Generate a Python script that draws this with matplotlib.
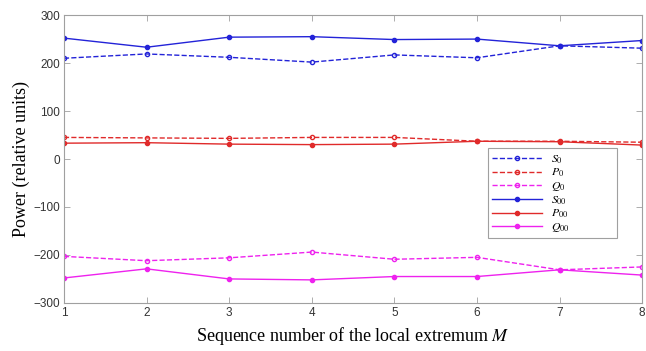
import matplotlib
matplotlib.use('Agg')
import matplotlib.pyplot as plt

# sequence number of the local extremum
m_values = [1, 2, 3, 4, 5, 6, 7, 8]

s0 = [210, 219, 212, 202, 217, 211, 236, 231]
p0 = [45, 44, 43, 45, 45, 37, 37, 35]
q0 = [-203, -212, -206, -194, -209, -205, -231, -225]
s00 = [252, 233, 254, 255, 249, 250, 236, 247]
p00 = [33, 34, 31, 30, 31, 37, 36, 29]
q00 = [-248, -229, -250, -252, -245, -245, -231, -242]

y_ticks = [-300, -200, -100, 0, 100, 200, 300]

blue = '#2323d8'
red = '#e02a2a'
magenta = '#ee22ee'

plt.rcParams['mathtext.fontset'] = 'stix'

fig = plt.figure(figsize=(6.46, 3.51), dpi=100)
ax = fig.add_axes([0.099, 0.137, 0.895, 0.820])

dashed_style = dict(linestyle='--', marker='o', markersize=3, markerfacecolor='none', linewidth=1.0)
solid_style = dict(linestyle='-', marker='o', markersize=3, linewidth=1.0)

ax.plot(m_values, s0, color=blue, label='$S_0$', **dashed_style)
ax.plot(m_values, p0, color=red, label='$P_0$', **dashed_style)
ax.plot(m_values, q0, color=magenta, label='$Q_0$', **dashed_style)
ax.plot(m_values, s00, color=blue, label='$S_{00}$', **solid_style)
ax.plot(m_values, p00, color=red, label='$P_{00}$', **solid_style)
ax.plot(m_values, q00, color=magenta, label='$Q_{00}$', **solid_style)

ax.set_xlim(1, 8)
ax.set_ylim(-300, 300)
ax.set_xticks(m_values)
ax.set_yticks(y_ticks)

for spine in ax.spines.values():
    spine.set_color('#a0a0a0')
    spine.set_linewidth(0.8)
ax.tick_params(direction='in', top=True, right=True, length=4, width=0.6,
               color='#a0a0a0', labelsize=8.5, labelcolor='#333333', pad=3)
for lbl in ax.get_xticklabels() + ax.get_yticklabels():
    lbl.set_family(['Liberation Sans', 'DejaVu Sans'])

ax.set_xlabel('Sequence number of the local extremum $M$', family='Liberation Serif',
              fontsize=13, labelpad=4)
ax.set_ylabel('Power (relative units)', family='Liberation Serif', fontsize=13, labelpad=2)

leg = ax.legend(loc='upper left', bbox_to_anchor=(0.734, 0.538, 0.223, 0), mode='expand',
                fontsize=8.5, handlelength=4.2, fancybox=False, framealpha=1,
                edgecolor='#a0a0a0', borderpad=0.35, labelspacing=0.0, handletextpad=0.8,
                borderaxespad=0)
leg.get_frame().set_linewidth(0.8)

fig.savefig('out.png', dpi=100)
